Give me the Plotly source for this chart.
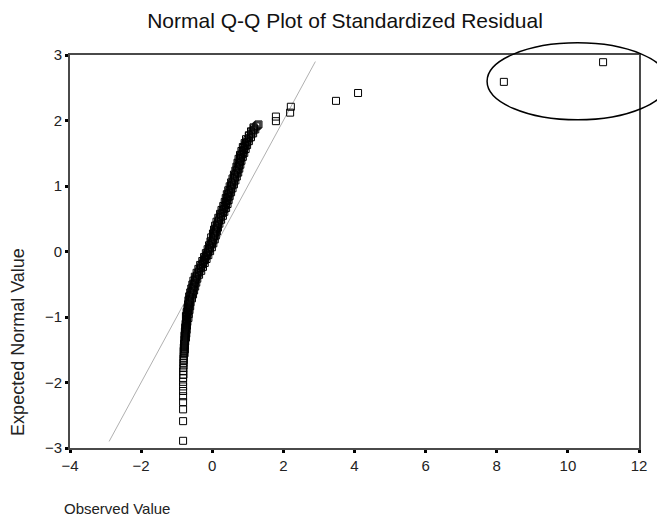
import plotly.graph_objects as go

# Observed (standardized residual) values and expected normal values
observed = [
    # lower tail (vertical column)
    -0.82, -0.82, -0.82, -0.82, -0.82, -0.82, -0.82, -0.82, -0.82, -0.81,
    -0.82, -0.81, -0.81, -0.81, -0.80, -0.81, -0.80,
    # dense body
    -0.80, -0.79, -0.80, -0.79, -0.78, -0.79, -0.78, -0.77,
    -0.77, -0.76, -0.77, -0.75, -0.76, -0.74, -0.75, -0.73, -0.74, -0.72,
    -0.71, -0.72, -0.70, -0.70, -0.68, -0.68, -0.66, -0.66, -0.64, -0.64,
    -0.63, -0.61, -0.61, -0.58, -0.58, -0.55, -0.55, -0.52, -0.52, -0.49,
    -0.48, -0.46, -0.43, -0.41, -0.37, -0.36, -0.32, -0.31, -0.27, -0.25,
    -0.22, -0.20, -0.17, -0.15, -0.12, -0.10, -0.07, -0.06, -0.03, -0.01,
    0.01, 0.02, 0.05, 0.06, 0.08, 0.10, 0.11, 0.13, 0.14, 0.16,
    0.19, 0.20, 0.24, 0.25, 0.29, 0.29, 0.34, 0.34, 0.38, 0.38,
    0.41, 0.41, 0.45, 0.44, 0.48, 0.48, 0.52, 0.52, 0.56, 0.56,
    0.60, 0.60, 0.64, 0.64, 0.68, 0.68, 0.71, 0.71, 0.75, 0.74,
    0.78, 0.77, 0.81, 0.81, 0.85, 0.85, 0.89, 0.88, 0.93, 0.93,
    0.98, 0.99, 1.04, 1.03, 1.10, 1.10, 1.16, 1.17, 1.24, 1.30,
    # upper tail
    1.79, 1.79, 2.19, 2.21, 3.48, 4.10, 8.20, 10.99,
]
expected = [
    -2.89, -2.59, -2.41, -2.30, -2.21, -2.13, -2.06, -1.99, -1.93, -1.88,
    -1.83, -1.78, -1.74, -1.70, -1.66, -1.63, -1.60,
    -1.57, -1.54, -1.51, -1.48, -1.45, -1.42, -1.39, -1.36,
    -1.33, -1.30, -1.27, -1.24, -1.21, -1.18, -1.15, -1.12, -1.09, -1.06,
    -1.03, -1.00, -0.97, -0.94, -0.91, -0.88, -0.85, -0.82, -0.79, -0.76,
    -0.73, -0.70, -0.67, -0.64, -0.61, -0.58, -0.55, -0.52, -0.49, -0.46,
    -0.43, -0.40, -0.37, -0.34, -0.31, -0.28, -0.25, -0.22, -0.19, -0.16,
    -0.13, -0.10, -0.07, -0.04, -0.01, 0.02, 0.05, 0.08, 0.11, 0.14,
    0.17, 0.20, 0.23, 0.26, 0.29, 0.32, 0.35, 0.38, 0.41, 0.44,
    0.47, 0.50, 0.53, 0.56, 0.59, 0.62, 0.65, 0.68, 0.71, 0.74,
    0.77, 0.80, 0.83, 0.86, 0.89, 0.92, 0.95, 0.98, 1.01, 1.04,
    1.07, 1.10, 1.13, 1.16, 1.19, 1.22, 1.25, 1.28, 1.31, 1.34,
    1.37, 1.40, 1.43, 1.46, 1.49, 1.52, 1.55, 1.58, 1.61, 1.64,
    1.67, 1.70, 1.73, 1.76, 1.79, 1.82, 1.85, 1.88, 1.91, 1.94,
    1.99, 2.06, 2.12, 2.21, 2.30, 2.42, 2.59, 2.89,
]

# further cases in the dense band (interleaved with the ones above)
observed_band = [
    -0.78, -0.80, -0.77, -0.80, -0.77, -0.79, -0.76, -0.78,
    -0.74, -0.78, -0.73, -0.77, -0.72, -0.76, -0.71, -0.75, -0.70, -0.73,
    -0.67, -0.74, -0.66, -0.72, -0.64, -0.70, -0.62, -0.68, -0.61, -0.67,
    -0.57, -0.65, -0.54, -0.62, -0.51, -0.59, -0.48, -0.56, -0.45, -0.53,
    -0.42, -0.49, -0.37, -0.44, -0.31, -0.39, -0.26, -0.34, -0.21, -0.28,
    -0.16, -0.23, -0.11, -0.18, -0.06, -0.13, -0.01, -0.09, 0.03, -0.05,
    0.07, -0.03, 0.10, 0.02, 0.13, 0.05, 0.16, 0.08, 0.20, 0.12,
    0.25, 0.17, 0.30, 0.22, 0.34, 0.26, 0.39, 0.31, 0.43, 0.35,
    0.46, 0.38, 0.49, 0.41, 0.53, 0.45, 0.57, 0.49, 0.61, 0.53,
    0.65, 0.57, 0.69, 0.61, 0.73, 0.65, 0.76, 0.68, 0.79, 0.71,
    0.82, 0.74, 0.86, 0.78, 0.90, 0.82, 0.94, 0.86, 0.98, 0.91,
    1.03, 0.95, 1.09, 1.03, 1.15, 1.09, 1.21, 1.16, 1.27,
]
expected_band = [
    -1.555, -1.525, -1.495, -1.465, -1.435, -1.405, -1.375, -1.345,
    -1.315, -1.285, -1.255, -1.225, -1.195, -1.165, -1.135, -1.105, -1.075, -1.045,
    -1.015, -0.985, -0.955, -0.925, -0.895, -0.865, -0.835, -0.805, -0.775, -0.745,
    -0.715, -0.685, -0.655, -0.625, -0.595, -0.565, -0.535, -0.505, -0.475, -0.445,
    -0.415, -0.385, -0.355, -0.325, -0.295, -0.265, -0.235, -0.205, -0.175, -0.145,
    -0.115, -0.085, -0.055, -0.025, 0.005, 0.035, 0.065, 0.095, 0.125, 0.155,
    0.185, 0.215, 0.245, 0.275, 0.305, 0.335, 0.365, 0.395, 0.425, 0.455,
    0.485, 0.515, 0.545, 0.575, 0.605, 0.635, 0.665, 0.695, 0.725, 0.755,
    0.785, 0.815, 0.845, 0.875, 0.905, 0.935, 0.965, 0.995, 1.025, 1.055,
    1.085, 1.115, 1.145, 1.175, 1.205, 1.235, 1.265, 1.295, 1.325, 1.355,
    1.385, 1.415, 1.445, 1.475, 1.505, 1.535, 1.565, 1.595, 1.625, 1.655,
    1.685, 1.715, 1.745, 1.775, 1.805, 1.835, 1.865, 1.895, 1.925,
]

ref_line_x = [-2.9, 2.9]
ref_line_y = [-2.9, 2.9]

x_ticks = [-4, -2, 0, 2, 4, 6, 8, 10, 12]
y_ticks = [-3, -2, -1, 0, 1, 2, 3]

title_text = "Normal Q-Q Plot of Standardized Residual"
x_title = "Observed Value"
y_title = "Expected Normal Value"

FONT = "Liberation Sans, Arial, sans-serif"

fig = go.Figure()
fig.add_trace(go.Scatter(
    x=ref_line_x, y=ref_line_y, mode="lines",
    line=dict(color="#b0b0b0", width=1), hoverinfo="skip", showlegend=False,
))
fig.add_trace(go.Scatter(
    x=observed + observed_band, y=expected + expected_band, mode="markers",
    marker=dict(symbol="square-open", size=7, color="black", line=dict(width=1, color="black")),
    showlegend=False,
))

axis_common = dict(
    showgrid=False, zeroline=False, showline=True, mirror=True,
    linecolor="#4a4a4a", linewidth=2,
    ticks="outside", ticklen=3, tickwidth=3, tickcolor="black",
    tickfont=dict(family=FONT, size=15, color="#222"),
)

# page body has an 8px margin, so the figure is sized/placed to compensate
fig.update_layout(
    width=657, height=517,
    paper_bgcolor="white", plot_bgcolor="white",
    margin=dict(l=62, r=26, t=47, b=77),
    title=dict(text=title_text, x=0.513, xanchor="center", y=0.976, yanchor="middle",
               font=dict(family=FONT, size=21, color="#111")),
    xaxis=dict(range=[-4, 12], tickvals=x_ticks, **axis_common),
    yaxis=dict(range=[-3, 3], tickvals=y_ticks, **axis_common),
    annotations=[
        dict(text=x_title, xref="paper", yref="paper", x=-0.014, y=-0.153,
             xanchor="left", yanchor="middle", showarrow=False,
             font=dict(family=FONT, size=15, color="#222")),
        dict(text=y_title, xref="paper", yref="paper", x=-0.0914, y=0.27,
             xanchor="center", yanchor="middle", textangle=-90, showarrow=False,
             font=dict(family=FONT, size=18, color="#222")),
    ],
    shapes=[
        dict(type="circle", xref="paper", yref="paper",
             x0=0.733, x1=1.051, y0=0.835, y1=1.031,
             line=dict(color="black", width=1.5), layer="above"),
    ],
)

fig.write_html("out.html")
